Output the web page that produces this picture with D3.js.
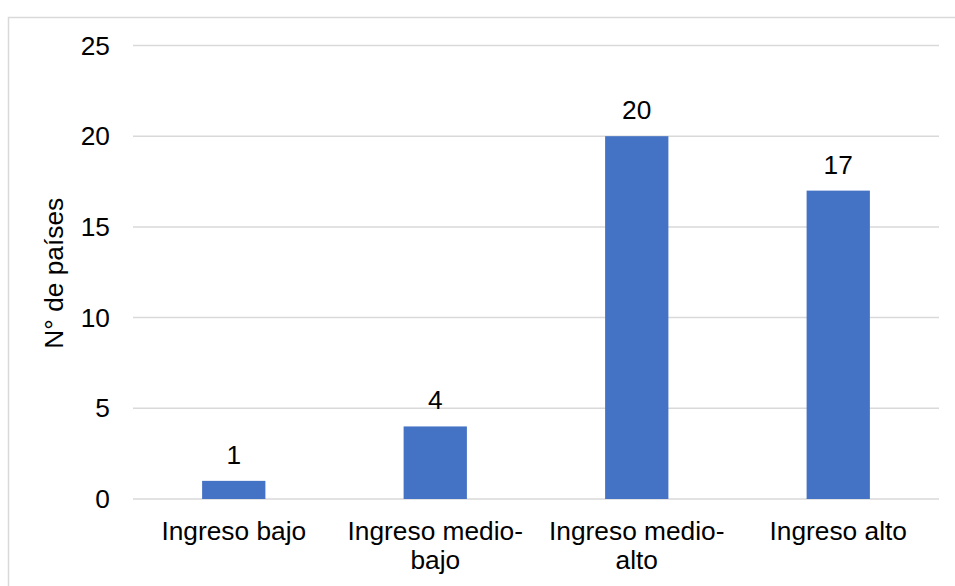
<!DOCTYPE html>
<html>
<head>
<meta charset="utf-8">
<script src="https://cdn.jsdelivr.net/npm/d3@7"></script>
<style>
  body { margin: 0; background: #fff; }
  text { font-family: "Liberation Sans", Arial, sans-serif; fill: #000; }
</style>
</head>
<body>
<svg id="chart" width="955" height="586"></svg>
<script>
// chart data
var categories = [["Ingreso bajo"], ["Ingreso medio-", "bajo"], ["Ingreso medio-", "alto"], ["Ingreso alto"]]
var values = [1, 4, 20, 17]
var yTicks = [0, 5, 10, 15, 20, 25]
var yLabel = "N° de países"

var svg = d3.select("#chart")

// outer frame of the chart area
svg.append("path")
    .attr("d", "M8.5,586V17.5H955")
    .attr("fill", "none")
    .attr("stroke", "#d9d9d9")
    .attr("stroke-width", 1.5)

var plotLeft = 133, plotRight = 939, plotTop = 45.5, plotBottom = 499
var fontSize = "26.3px"

var x = d3.scaleBand()
    .domain(d3.range(values.length))
    .range([plotLeft, plotRight])
    .padding(0)

var y = d3.scaleLinear()
    .domain([0, 25])
    .range([plotBottom, plotTop])

var barW = x.bandwidth() * 0.314

// gridlines
svg.append("g").selectAll("line")
    .data(yTicks)
    .enter().append("line")
    .attr("x1", plotLeft)
    .attr("x2", plotRight)
    .attr("y1", function(d) { return y(d) })
    .attr("y2", function(d) { return y(d) })
    .attr("stroke", "#d9d9d9")
    .attr("stroke-width", 1.5)

// y tick labels
svg.append("g").selectAll("text")
    .data(yTicks)
    .enter().append("text")
    .attr("x", 110)
    .attr("y", function(d) { return y(d) + 9 })
    .attr("text-anchor", "end")
    .style("font-size", fontSize)
    .text(function(d) { return d })

// bars
svg.append("g").selectAll("rect")
    .data(values)
    .enter().append("rect")
    .attr("x", function(d, i) { return x(i) + x.bandwidth() / 2 - barW / 2 })
    .attr("width", barW)
    .attr("y", function(d) { return y(d) })
    .attr("height", function(d) { return y(0) - y(d) })
    .attr("fill", "#4472c4")

// data labels
svg.append("g").selectAll("text")
    .data(values)
    .enter().append("text")
    .attr("x", function(d, i) { return x(i) + x.bandwidth() / 2 })
    .attr("y", function(d) { return y(d) - 17 })
    .attr("text-anchor", "middle")
    .style("font-size", fontSize)
    .text(function(d) { return d })

// category labels, may wrap to two lines
var cat = svg.append("g").selectAll("text")
    .data(categories)
    .enter().append("text")
    .attr("text-anchor", "middle")
    .style("font-size", fontSize)

cat.selectAll("tspan")
    .data(function(d, i) { return d.map(function(t) { return { t: t, i: i } }) })
    .enter().append("tspan")
    .attr("x", function(d) { return x(d.i) + x.bandwidth() / 2 })
    .attr("y", function(d, j) { return 540 + j * 29 })
    .text(function(d) { return d.t })

// y axis title
svg.append("text")
    .attr("transform", "translate(63," + ((plotTop + plotBottom) / 2 + 1) + ") rotate(-90)")
    .attr("text-anchor", "middle")
    .style("font-size", fontSize)
    .text(yLabel)
</script>
</body>
</html>
